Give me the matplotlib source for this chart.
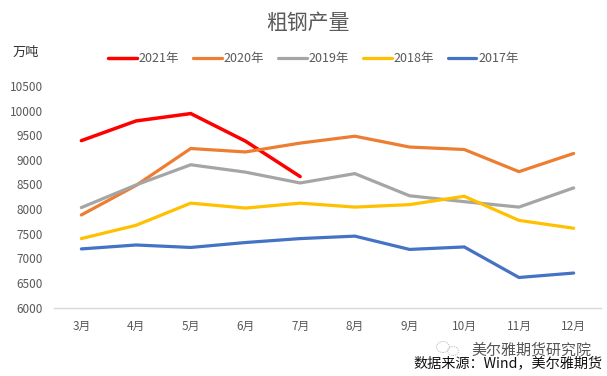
import matplotlib
matplotlib.use('Agg')
import matplotlib.pyplot as plt
from matplotlib.patches import Ellipse

plt.rcParams['font.family'] = ['Noto Sans CJK SC', 'DejaVu Sans']

months = ['3月', '4月', '5月', '6月', '7月', '8月', '9月', '10月', '11月', '12月']
y2021 = [9390, 9790, 9940, 9380, 8660]
y2020 = [7880, 8480, 9230, 9160, 9340, 9480, 9260, 9210, 8760, 9130]
y2019 = [8030, 8490, 8900, 8750, 8530, 8720, 8270, 8150, 8040, 8430]
y2018 = [7400, 7670, 8120, 8020, 8120, 8040, 8090, 8260, 7770, 7610]
y2017 = [7190, 7270, 7220, 7320, 7400, 7450, 7180, 7230, 6610, 6700]
yticks = list(range(6000, 11000, 500))

W, H = 607, 376
fig = plt.figure(figsize=(W / 100, H / 100), dpi=100)
ax = fig.add_axes([54 / W, 1 - 307.5 / H, (601 - 54) / W, (307.5 - 86) / H])

xs = list(range(len(months)))
series = [('2021年', y2021, '#FF0000', 2.5), ('2020年', y2020, '#ED7D31', 2.3),
          ('2019年', y2019, '#A5A5A5', 2.3), ('2018年', y2018, '#FFC000', 2.3),
          ('2017年', y2017, '#4472C4', 2.3)]
for label, vals, color, lw in series:
    ax.plot(xs[:len(vals)], vals, color=color, lw=lw, label=label,
            solid_capstyle='round', solid_joinstyle='miter')

ax.set_xlim(-0.5, 9.5)
ax.set_ylim(6000, 10500)
ax.set_xticks(xs, months)
ax.set_yticks(yticks)
ax.tick_params(length=0, labelsize=8.5, labelcolor='#595959')
ax.tick_params(axis='x', pad=9)
ax.tick_params(axis='y', pad=8)
for s in ['top', 'right', 'left']:
    ax.spines[s].set_visible(False)
ax.spines['bottom'].set_color('#D9D9D9')
ax.spines['bottom'].set_linewidth(1.0)

fig.legend(loc='center', bbox_to_anchor=(313.5 / W, 1 - 58.5 / H), ncol=5, frameon=False,
           fontsize=9, labelcolor='#595959', handlelength=2.3, handletextpad=0.15,
           columnspacing=1.1)

fig.text(308 / W, 1 - 23 / H, '粗钢产量', ha='center', va='center', fontsize=15,
         color='#595959')
fig.text(26 / W, 1 - 52 / H, '万吨', ha='center', va='center', fontsize=9.5, color='#333333')

# watermark icon (two small speech bubbles)
for cx, cy, w, h in [(443, 347, 13, 11), (453, 351, 11, 9)]:
    fig.add_artist(Ellipse((cx / W, 1 - cy / H), w / W, h / H, fill=False, ec='#BBBBBB',
                           lw=0.7, ls=(0, (1, 1)), transform=fig.transFigure))

fig.text(531 / W, 1 - 350 / H, '美尔雅期货研究院', ha='center', va='center', fontsize=10.8,
         color='#555555')
fig.text(603 / W, 1 - 363 / H, '数据来源：Wind，美尔雅期货', ha='right', va='center',
         fontsize=10.2, color='#111111')
fig.savefig('out.png', dpi=100)
